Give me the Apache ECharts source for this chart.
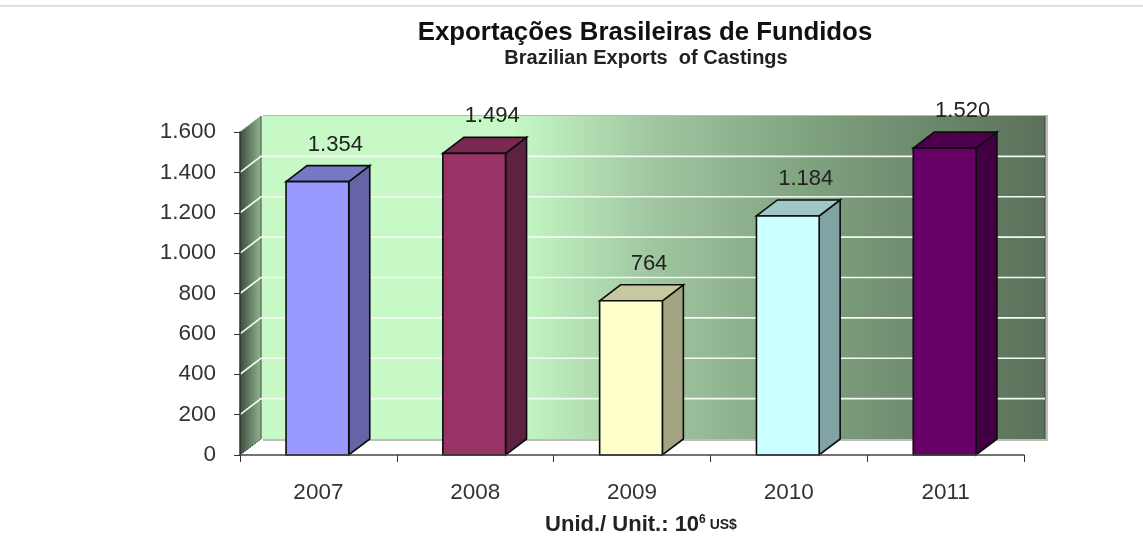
<!DOCTYPE html>
<html lang="pt">
<head>
	<meta charset="UTF-8">
	<title>Exportações Brasileiras de Fundidos</title>
	<script src="https://cdn.jsdelivr.net/npm/echarts@6/dist/echarts.min.js"></script>
	<style>
		html, body{
			width: 100%;
			height: 100%;
			padding: 0;
			margin: 0;
			background: #fff;
		}
		#main{
			width: 1143px;
			height: 536px;
		}
	</style>
</head>
<body>
	<div id="main"></div>
<script>
	let years = ['2007', '2008', '2009', '2010', '2011'];
	let exportsValues = [1354, 1494, 764, 1184, 1520];
	let yTicks = [200, 400, 600, 800, 1000, 1200, 1400];
	// frente, topo, lateral
	let frontColors = ['#9999ff', '#993366', '#ffffcc', '#ccffff', '#660066'];
	let topColors = ['#7777c8', '#7a2850', '#c8c89e', '#a0c8c8', '#4e004e'];
	let sideColors = ['#6464a6', '#5f2140', '#a3a382', '#82a3a3', '#420042'];

	// deslocamento da profundidade 3D
	const DX = 21, DY = 16;
	const font = '"Liberation Sans", Arial, sans-serif';

	function fmt(v){
		return String(v).replace(/\B(?=(\d{3})+$)/g, '.');
	}

	function poly(points, fill, stroke, width){
		return {
			type: 'polygon',
			shape: {points: points},
			style: {fill: fill, stroke: stroke || null, lineWidth: width || 0}
		};
	}

	// paredes do fundo e grades
	function renderWall(params, api){
		let p0 = api.coord([years[0], 0]);
		let p1 = api.coord([years[0], 1600]);
		let left = params.coordSys.x;
		let right = left + params.coordSys.width;
		let bottom = p0[1], top = p1[1];
		let children = [];
		// sombra
		children.push({type: 'rect', shape: {x: left + DX + 2, y: top - DY - 1, width: right - left + 1, height: bottom - top + 3}, style: {fill: '#bcbcbc'}});
		// parede de fundo
		children.push({
			type: 'rect',
			shape: {x: left + DX, y: top - DY, width: right - left, height: bottom - top},
			style: {
				fill: new echarts.graphic.LinearGradient(0, 0, 1, 0, [
					{offset: 0, color: '#c6f9c6'},
					{offset: 0.32, color: '#c6f9c6'},
					{offset: 0.5, color: '#a0c6a0'},
					{offset: 0.7, color: '#7fa27f'},
					{offset: 1, color: '#5a705a'}
				])
			}
		});
		// parede lateral
		children.push(poly(
			[[left, top], [left + DX, top - DY], [left + DX, bottom - DY], [left, bottom]],
			new echarts.graphic.LinearGradient(0, 0, 1, 0, [
				{offset: 0, color: '#3b4f3b'},
				{offset: 1, color: '#93b393'}
			])
		));
		children.push({type: 'line', shape: {x1: left + DX, y1: top - DY, x2: left + DX, y2: bottom - DY}, style: {stroke: '#3d4a3d', lineWidth: 1}});
		children.push({type: 'line', shape: {x1: right + DX, y1: top - DY, x2: right + DX, y2: bottom - DY}, style: {stroke: '#3d4a3d', lineWidth: 1}});
		children.push({type: 'line', shape: {x1: left, y1: top, x2: left + DX, y2: top - DY}, style: {stroke: '#8a8a8a', lineWidth: 1, lineDash: [2, 1]}});
		children.push({type: 'line', shape: {x1: left, y1: bottom, x2: left + DX, y2: bottom - DY}, style: {stroke: '#333', lineWidth: 1, lineDash: [2, 1]}});
		yTicks.forEach(v => {
			let y = api.coord([years[0], v])[1];
			children.push({
				type: 'polyline',
				shape: {points: [[left, y], [left + DX, y - DY], [right + DX, y - DY]]},
				style: {fill: null, stroke: '#f2fbf2', lineWidth: 1.6}
			});
		});
		return {type: 'group', children: children};
	}

	// barra 3D
	function renderBar(params, api){
		let i = params.dataIndex;
		let val = api.value(1);
		let c = api.coord([i, val]);
		let base = api.coord([i, 0]);
		let w = api.size([1, 0])[0] * 0.4;
		let l = c[0] - w / 2 - 1;
		let r = l + w;
		let t = c[1], b = base[1];
		let edge = '#0c0c0c';
		return {
			type: 'group',
			children: [
				poly([[r, t], [r + DX, t - DY], [r + DX, b - DY], [r, b]], sideColors[i], edge, 1.6),
				poly([[l, t], [l + DX, t - DY], [r + DX, t - DY], [r, t]], topColors[i], edge, 1.6),
				{type: 'rect', shape: {x: l, y: t, width: w, height: b - t}, style: {fill: frontColors[i], stroke: edge, lineWidth: 1.6}},
				{
					type: 'text',
					style: {
						text: fmt(val),
						x: c[0] + 17,
						y: t - DY - 21,
						align: 'center',
						verticalAlign: 'middle',
						fill: '#222',
						font: '22px ' + font
					}
				}
			]
		};
	}

	let myChart = echarts.init(document.getElementById('main'));
	myChart.setOption({
		animation: false,
		title: [{
			text: 'Exportações Brasileiras de Fundidos',
			left: 640, top: 15, textAlign: 'center',
			textStyle: {fontFamily: font, fontSize: 25.8, fontWeight: 'bold', color: '#111'}
		}, {
			text: 'Brazilian Exports  of Castings',
			left: 641, top: 43, textAlign: 'center',
			textStyle: {fontFamily: font, fontSize: 20, fontWeight: 'bold', color: '#222'}
		}, {
			text: '{a|Unid./ Unit.: 10}{b|6}{c| US$}',
			left: 636, top: 509, textAlign: 'center',
			textStyle: {
				fontFamily: font,
				rich: {
					a: {fontFamily: font, fontSize: 22, fontWeight: 'bold', color: '#222'},
					b: {fontFamily: font, fontSize: 12, fontWeight: 'bold', color: '#222', verticalAlign: 'top'},
					c: {fontFamily: font, fontSize: 14, fontWeight: 'bold', color: '#222'}
				}
			}
		}],
		grid: {left: 240, right: 119, top: 132, bottom: 81},
		xAxis: {
			type: 'category',
			data: years,
			z: 5,
			axisLine: {lineStyle: {color: '#444', width: 1.5}},
			axisTick: {show: true, alignWithLabel: false, length: 7, lineStyle: {color: '#333'}},
			axisLabel: {fontFamily: font, fontSize: 22.5, color: '#333', margin: 26}
		},
		yAxis: {
			type: 'value',
			min: 0,
			max: 1600,
			interval: 200,
			z: 5,
			splitLine: {show: false},
			axisLine: {show: true, lineStyle: {color: '#333', width: 1.5}},
			axisTick: {show: true, length: 6, lineStyle: {color: '#333'}},
			axisLabel: {fontFamily: font, fontSize: 22.5, color: '#333', margin: 24, formatter: fmt}
		},
		graphic: [{
			type: 'line',
			silent: true,
			shape: {x1: 0, y1: 6, x2: 1143, y2: 6},
			style: {stroke: '#bdbdbd', lineWidth: 1}
		}],
		series: [{
			type: 'custom',
			z: 1,
			silent: true,
			data: [[years[0], 0]],
			encode: {x: 0, y: 1},
			renderItem: renderWall
		}, {
			type: 'custom',
			z: 2,
			data: exportsValues.map((v, i) => [i, v]),
			encode: {x: 0, y: 1},
			renderItem: renderBar
		}]
	});
</script>
</body>
</html>
